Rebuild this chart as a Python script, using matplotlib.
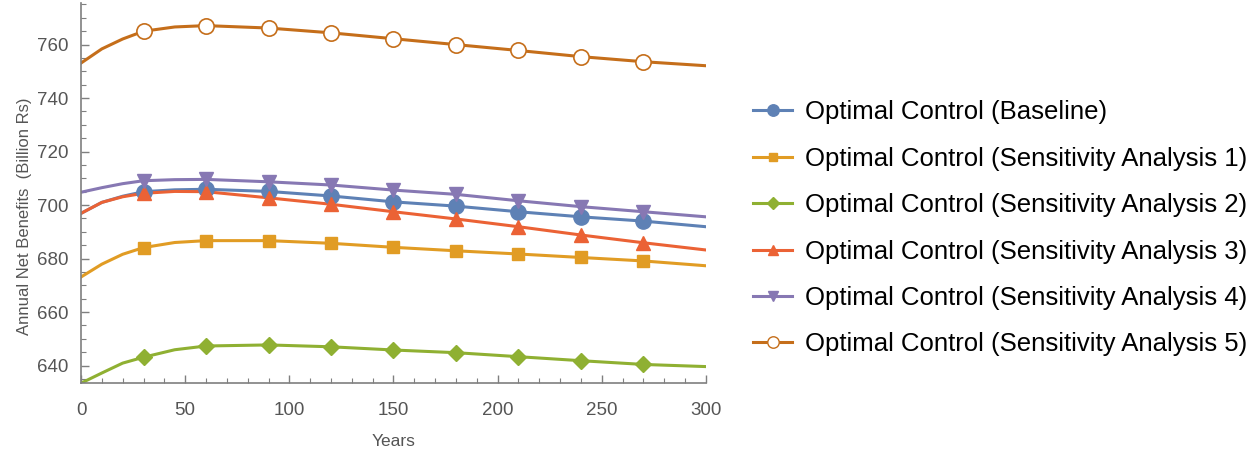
import matplotlib
matplotlib.use("Agg")
import matplotlib.pyplot as plt
from matplotlib.ticker import MultipleLocator

plt.rcParams['font.family'] = ['Liberation Sans', 'DejaVu Sans']

# years at which the curves were read, and the marker years
years = [0, 10, 20, 30, 45, 60, 90, 120, 150, 180, 210, 240, 270, 300]
marker_years = [30, 60, 90, 120, 150, 180, 210, 240, 270]

baseline = [696.9, 701.0, 703.3, 705.0, 705.7, 705.9, 705.1, 703.4, 701.2, 699.6, 697.5, 695.6, 694.0, 691.9]
sa1 = [673.1, 677.9, 681.6, 684.1, 686.0, 686.7, 686.7, 685.7, 684.2, 682.9, 681.7, 680.4, 679.1, 677.3]
sa2 = [633.4, 637.2, 640.9, 643.1, 645.9, 647.3, 647.7, 647.0, 645.8, 644.8, 643.3, 641.8, 640.4, 639.6]
sa3 = [696.9, 701.0, 703.1, 704.4, 705.1, 705.0, 702.7, 700.3, 697.5, 694.8, 691.9, 688.8, 685.9, 683.2]
sa4 = [704.8, 706.5, 708.0, 709.1, 709.5, 709.6, 708.7, 707.5, 705.6, 704.0, 701.6, 699.4, 697.5, 695.6]
sa5 = [753.1, 758.4, 762.1, 765.0, 766.6, 767.1, 766.2, 764.4, 762.2, 760.0, 757.8, 755.5, 753.6, 752.1]

labels = ["Optimal Control (Baseline)",
          "Optimal Control (Sensitivity Analysis 1)",
          "Optimal Control (Sensitivity Analysis 2)",
          "Optimal Control (Sensitivity Analysis 3)",
          "Optimal Control (Sensitivity Analysis 4)",
          "Optimal Control (Sensitivity Analysis 5)"]

series = [baseline, sa1, sa2, sa3, sa4, sa5]
colors = ['#5E81B5', '#E19C24', '#8FB032', '#EB6235', '#8778B3', '#C56E1A']
markers = ['o', 's', 'D', '^', 'v', 'o']
msizes = [11, 8, 8.5, 10, 10, 11]

fig = plt.figure(figsize=(12.6, 4.51), dpi=100)
ax = fig.add_axes([0.0643, 0.151, 0.496, 0.842])

for vals, c, m, ms, lab in zip(series, colors, markers, msizes, labels):
    ax.plot(years, vals, color=c, lw=2.2, zorder=2)
    mv = [vals[years.index(y)] for y in marker_years]
    hollow = lab.endswith('5)')
    if hollow:
        ax.plot(marker_years, mv, ls='none', marker=m, ms=ms, mfc='white',
                mec=c, mew=1.2, zorder=3)
    else:
        ax.plot(marker_years, mv, ls='none', marker=m, ms=ms, color=c, zorder=3)
    ax.plot([], [], color=c, lw=2.2, marker=m, ms=ms * 0.75,
            mfc='white' if hollow else c, mec=c, label=lab)

ax.set_xlim(0, 300)
ax.set_ylim(633.5, 775.5)
ax.xaxis.set_major_locator(MultipleLocator(50))
ax.xaxis.set_minor_locator(MultipleLocator(10))
ax.yaxis.set_minor_locator(MultipleLocator(5))
ax.set_yticks([640, 660, 680, 700, 720, 740, 760])

for s in ['top', 'right']:
    ax.spines[s].set_visible(False)
for s in ['left', 'bottom']:
    ax.spines[s].set_color('#7f7f7f')
    ax.spines[s].set_linewidth(1.2)

ax.tick_params(which='major', direction='in', length=6, width=1, color='#7f7f7f',
               labelsize=13.5, labelcolor='#555555')
ax.tick_params(axis='y', which='major', pad=9)
ax.tick_params(axis='x', which='major', pad=14)
ax.tick_params(which='minor', direction='in', length=3.5, width=0.8, color='#7f7f7f')

ax.set_xlabel("Years", fontsize=12.5, color='#555555')
ax.xaxis.set_label_coords(0.5, -0.135)
ax.set_ylabel("Annual Net Benefits  (Billion Rs)", fontsize=12, color='#555555')
ax.yaxis.set_label_coords(-0.078, 0.44)

leg = fig.legend(loc='upper left', bbox_to_anchor=(0.5897, 0.80), frameon=False,
                 fontsize=18.5, handlelength=1.5, handletextpad=0.5,
                 labelspacing=0.87, borderaxespad=0)

fig.savefig('out.png', dpi=100)
